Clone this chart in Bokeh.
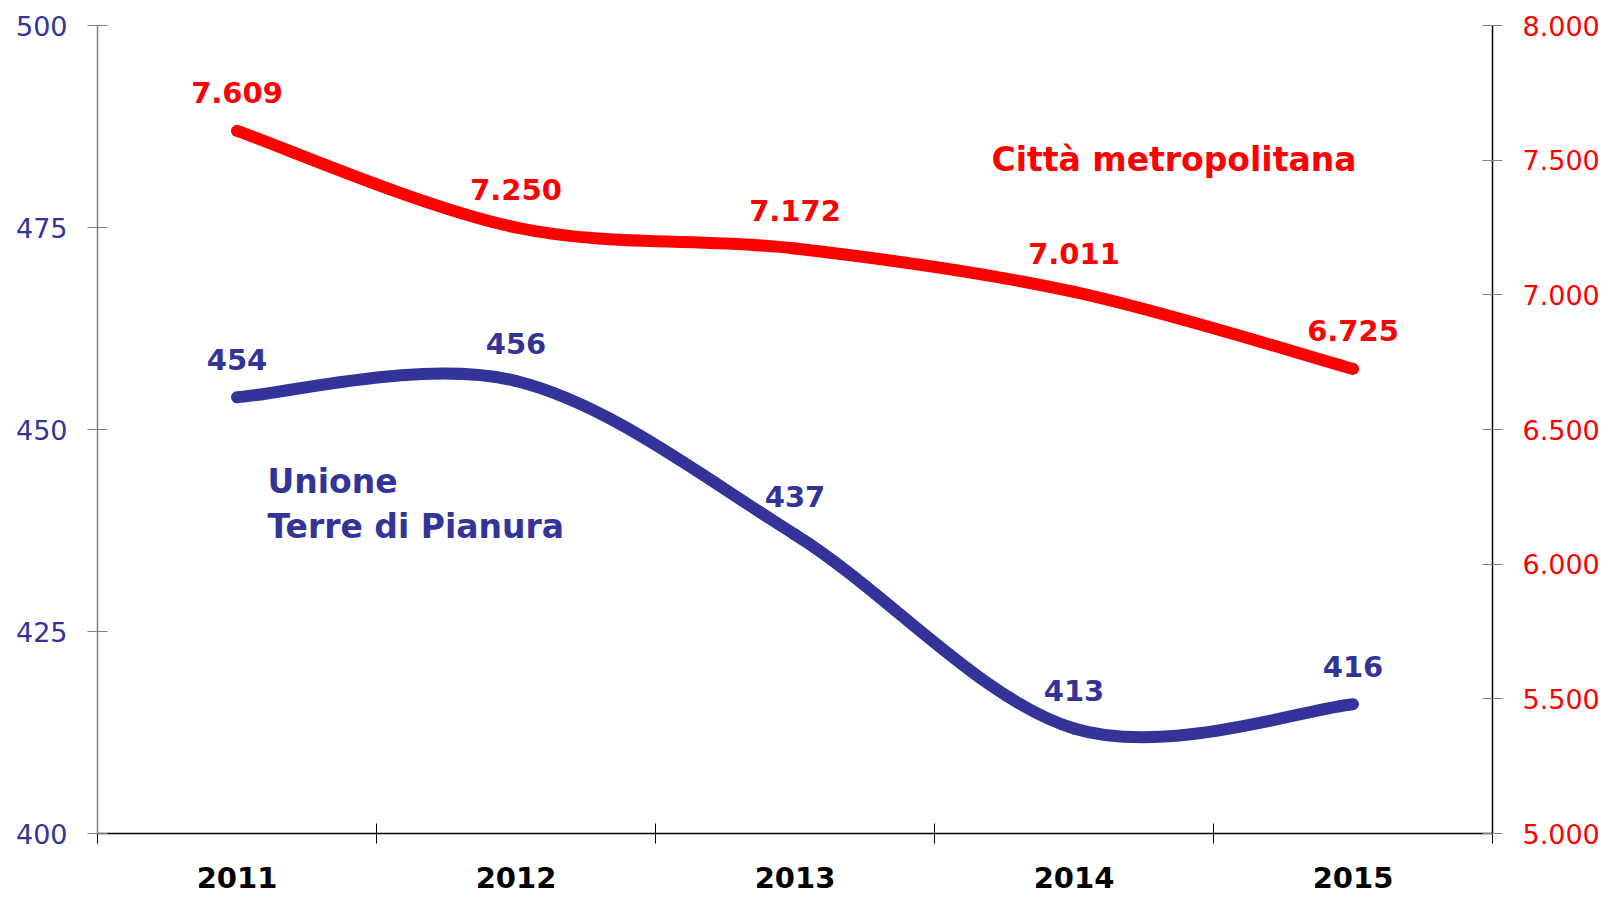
from bokeh.plotting import figure
from bokeh.models import (Range1d, LinearAxis, FixedTicker, Label, ColumnDataSource)
from bokeh.core.properties import value
from bokeh.embed import file_html
from bokeh.resources import INLINE

years = ["2011", "2012", "2013", "2014", "2015"]
unione = [454, 456, 437, 413, 416]
citta = [7609, 7250, 7172, 7011, 6725]
left_ticks = [400, 425, 450, 475, 500]
right_ticks = [5000, 5500, 6000, 6500, 7000, 7500, 8000]

BLUE = "#333399"
RED = "#FF0000"
FONT = "DejaVu Sans"

xs = [i + 0.5 for i in range(len(years))]


def fmt(v):
    return f"{v:,}".replace(",", ".")


def bezier_segments(x, y):
    n = len(x)
    segs = dict(x0=[], y0=[], x1=[], y1=[], cx0=[], cy0=[], cx1=[], cy1=[])
    for i in range(n - 1):
        pm = max(i - 1, 0)
        pp = min(i + 2, n - 1)
        segs["x0"].append(x[i]); segs["y0"].append(y[i])
        segs["x1"].append(x[i + 1]); segs["y1"].append(y[i + 1])
        segs["cx0"].append(x[i] + (x[i + 1] - x[pm]) / 6)
        segs["cy0"].append(y[i] + (y[i + 1] - y[pm]) / 6)
        segs["cx1"].append(x[i + 1] - (x[pp] - x[i]) / 6)
        segs["cy1"].append(y[i + 1] - (y[pp] - y[i]) / 6)
    return ColumnDataSource(segs)


p = figure(width=1610, height=900, output_backend="svg", toolbar_location=None,
           x_range=Range1d(0, len(years)), y_range=Range1d(400, 500),
           min_border_left=97, min_border_right=118, min_border_top=25,
           min_border_bottom=67, x_axis_location=None, y_axis_location=None)
p.extra_y_ranges = {"right": Range1d(5000, 8000)}
p.outline_line_color = None
p.xgrid.visible = False
p.ygrid.visible = False
p.background_fill_color = "white"
p.border_fill_color = "white"

# x axis
xaxis = LinearAxis(ticker=FixedTicker(ticks=xs, minor_ticks=list(range(len(years) + 1))))
xaxis.major_label_overrides = {x: y for x, y in zip(xs, years)}
xaxis.major_tick_line_color = None
xaxis.minor_tick_line_color = "black"
xaxis.minor_tick_in = 10
xaxis.minor_tick_out = 10
xaxis.major_tick_out = 10
xaxis.axis_line_color = "black"
xaxis.axis_line_width = 1.5
xaxis.major_label_standoff = 23
xaxis.major_label_text_font = FONT
xaxis.major_label_text_font_style = "bold"
xaxis.major_label_text_font_size = "29px"
xaxis.major_label_text_color = "black"
p.add_layout(xaxis, "below")

# left axis
laxis = LinearAxis(ticker=FixedTicker(ticks=left_ticks))
laxis.axis_line_color = "#808080"
laxis.axis_line_width = 1.5
laxis.major_tick_line_color = "#808080"
laxis.major_tick_in = 10
laxis.major_tick_out = 10
laxis.minor_tick_line_color = None
laxis.major_label_standoff = 20
laxis.major_label_text_font = FONT
laxis.major_label_text_font_size = "27px"
laxis.major_label_text_color = BLUE
p.add_layout(laxis, "left")

# right axis
raxis = LinearAxis(y_range_name="right", ticker=FixedTicker(ticks=right_ticks))
raxis.major_label_overrides = {t: fmt(t) for t in right_ticks}
raxis.axis_line_color = "black"
raxis.axis_line_width = 1.5
raxis.major_tick_line_color = "#808080"
raxis.major_tick_in = 10
raxis.major_tick_out = 10
raxis.minor_tick_line_color = None
raxis.major_label_standoff = 20
raxis.major_label_text_font = FONT
raxis.major_label_text_font_size = "27px"
raxis.major_label_text_color = RED
p.add_layout(raxis, "right")

# lines
p.bezier(x0="x0", y0="y0", x1="x1", y1="y1", cx0="cx0", cy0="cy0", cx1="cx1", cy1="cy1",
         source=bezier_segments(xs, citta), line_color=RED, line_width=12,
         line_cap="round", y_range_name="right")
p.bezier(x0="x0", y0="y0", x1="x1", y1="y1", cx0="cx0", cy0="cy0", cx1="cx1", cy1="cy1",
         source=bezier_segments(xs, unione), line_color=BLUE, line_width=12,
         line_cap="round")

# data labels
p.text(x=xs, y=citta, text=[fmt(v) for v in citta], y_range_name="right",
       text_font=value(FONT), text_font_style="bold", text_font_size="29px",
       text_color=RED, text_align="center", text_baseline="middle", y_offset=-38)
p.text(x=xs, y=unione, text=[str(v) for v in unione],
       text_font=value(FONT), text_font_style="bold", text_font_size="29px",
       text_color=BLUE, text_align="center", text_baseline="middle", y_offset=-38)

# series names
p.add_layout(Label(x=3.204, y=7502, y_range_name="right", text="Città metropolitana",
                   text_font=FONT, text_font_style="bold", text_font_size="33px",
                   text_color=RED, text_align="left", text_baseline="middle"))
p.add_layout(Label(x=0.609, y=443.6, text="Unione",
                   text_font=FONT, text_font_style="bold", text_font_size="33px",
                   text_color=BLUE, text_align="left", text_baseline="middle"))
p.add_layout(Label(x=0.609, y=438.0, text="Terre di Pianura",
                   text_font=FONT, text_font_style="bold", text_font_size="33px",
                   text_color=BLUE, text_align="left", text_baseline="middle"))

open("out.html", "w").write(file_html(p, INLINE))
